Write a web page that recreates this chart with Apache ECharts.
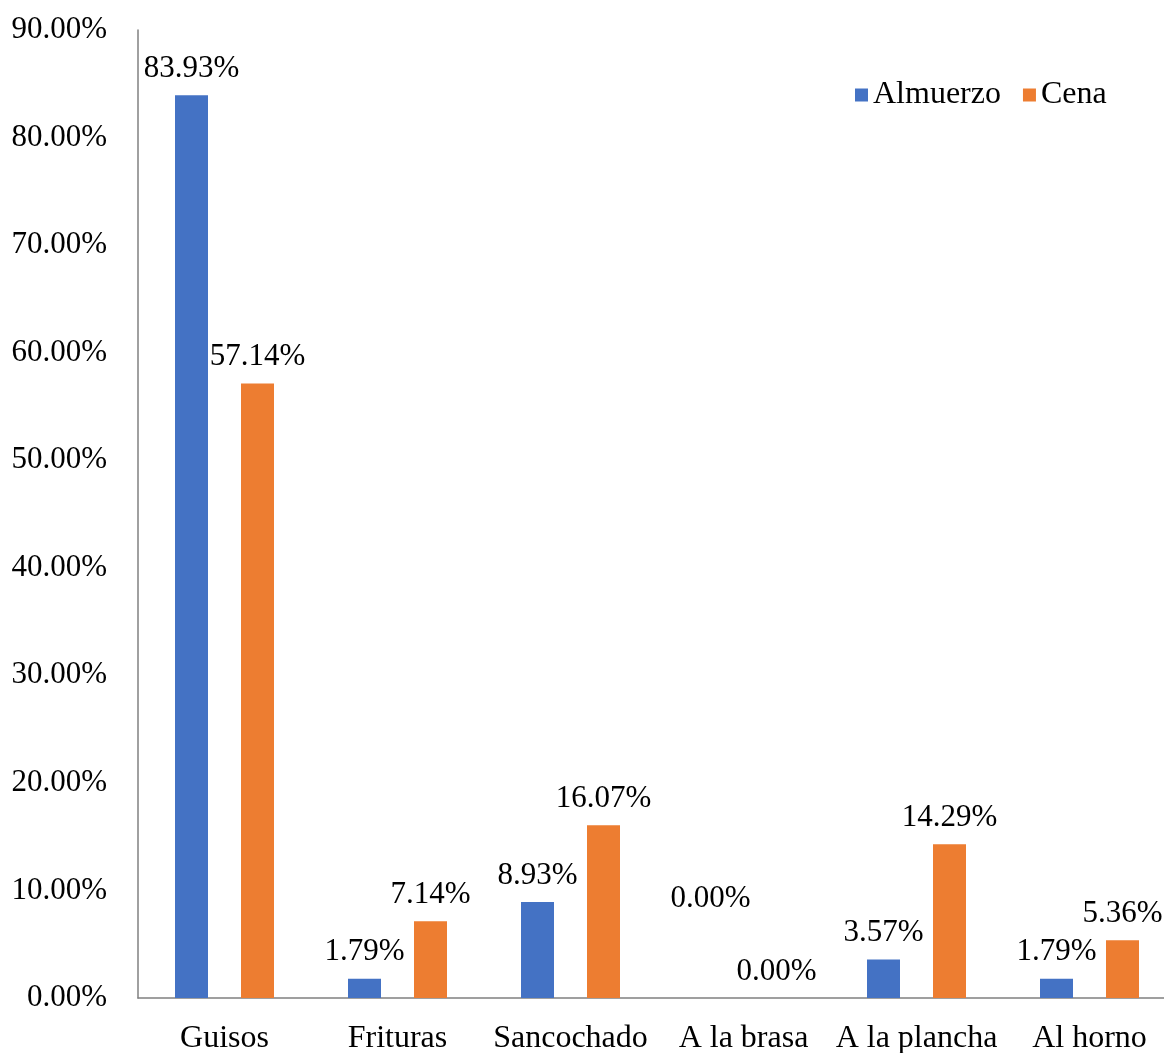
<!DOCTYPE html>
<html>
<head>
    <meta charset="UTF-8">
    <title>Almuerzo y Cena</title>
    <script src="https://cdn.jsdelivr.net/npm/echarts@6/dist/echarts.min.js"></script>
    <style>
        body { margin: 0; background: #fff; }
        #chart { width: 1164px; height: 1053px; }
    </style>
</head>
<body>
    <div id="chart"></div>
    <script>
        // datos (porcentajes)
        var categorias = ['Guisos', 'Frituras', 'Sancochado', 'A la brasa', 'A la plancha', 'Al horno'];
        var almuerzo = [83.93, 1.79, 8.93, 0.00, 3.57, 1.79];
        var cena = [57.14, 7.14, 16.07, 0.00, 14.29, 5.36];
        var ejeY = [0, 10, 20, 30, 40, 50, 60, 70, 80, 90];

        var fuente = 'Liberation Serif, Times New Roman, serif';

        // en el original la etiqueta 0.00% del almuerzo (A la brasa) esta movida hacia arriba
        var almuerzoData = almuerzo.map(function (v, i) {
            if (i === 3) return { value: v, label: { offset: [0, -73] } };
            return v;
        });

        var chart = echarts.init(document.getElementById('chart'), null, { renderer: 'canvas' });
        chart.setOption({
            backgroundColor: '#fff',
            animation: false,
            textStyle: { fontFamily: fuente },
            legend: {
                left: 850,
                top: 74,
                itemWidth: 13,
                itemHeight: 13,
                itemGap: 22,
                icon: 'rect',
                textStyle: { fontFamily: fuente, fontSize: 32, color: '#000' },
                data: ['Almuerzo', 'Cena']
            },
            grid: { left: 138, top: 30, width: 1038, height: 968, containLabel: false, outerBoundsMode: 'none' },
            xAxis: {
                type: 'category',
                data: categorias,
                axisLine: { lineStyle: { color: '#808080', width: 1.5 } },
                axisTick: { show: false },
                axisLabel: { color: '#000', fontSize: 32, fontFamily: fuente, margin: 25, interval: 0 }
            },
            yAxis: {
                type: 'value',
                min: ejeY[0],
                max: ejeY[ejeY.length - 1],
                interval: 10,
                axisLine: { show: true, lineStyle: { color: '#808080', width: 1.5 } },
                axisTick: { show: false },
                splitLine: { show: false },
                axisLabel: {
                    color: '#000', fontSize: 31, fontFamily: fuente, margin: 31,
                    formatter: function (v) { return v.toFixed(2) + '%'; }
                }
            },
            series: [
                {
                    name: 'Almuerzo',
                    type: 'bar',
                    data: almuerzoData,
                    barWidth: 33,
                    barGap: '100%',
                    itemStyle: { color: '#4472C4' },
                    label: {
                        show: true, position: 'top', distance: 11,
                        color: '#000', fontSize: 31, fontFamily: fuente,
                        formatter: function (p) { return p.value.toFixed(2) + '%'; }
                    }
                },
                {
                    name: 'Cena',
                    type: 'bar',
                    data: cena,
                    barWidth: 33,
                    itemStyle: { color: '#ED7D31' },
                    label: {
                        show: true, position: 'top', distance: 11,
                        color: '#000', fontSize: 31, fontFamily: fuente,
                        formatter: function (p) { return p.value.toFixed(2) + '%'; }
                    }
                }
            ]
        });
    </script>
</body>
</html>
